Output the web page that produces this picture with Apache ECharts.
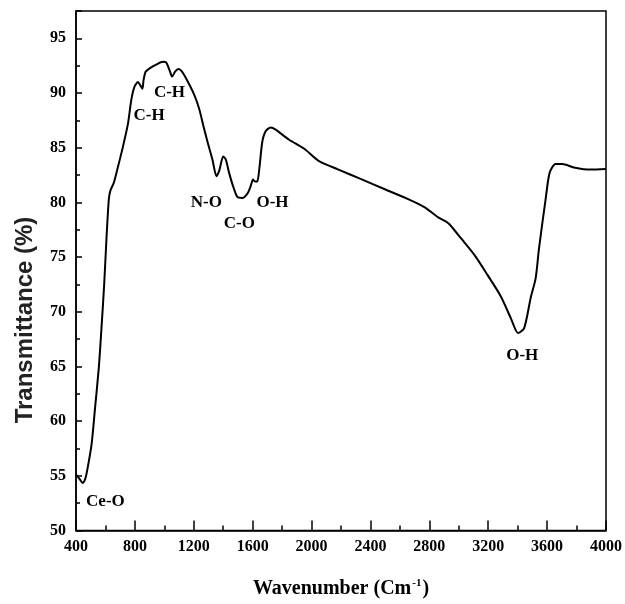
<!DOCTYPE html>
<html lang="en">

	<head>
		<meta charset="UTF-8">
		<title>FTIR spectrum</title>
		<script src="https://cdn.jsdelivr.net/npm/echarts@6/dist/echarts.min.js" type="text/javascript"></script>
		<style>
			html, body { margin: 0; padding: 0; background: #fff; }
			#main { width: 625px; height: 604px; }
		</style>
	</head>

	<body>
		<div id="main"></div>
		<script type="text/javascript">
			// wavenumber (cm-1) and transmittance (%)
			var wavenumber = [400, 425, 445, 462, 476, 506, 528, 555, 573, 591, 607, 623, 634, 657, 686, 719, 753, 776, 798, 821,
				837, 851, 859, 873, 900, 945, 990, 1012, 1035, 1053, 1073, 1096, 1120, 1159, 1204, 1238, 1265, 1294, 1327, 1354,
				1373, 1400, 1418, 1440, 1469, 1496, 1530, 1564, 1587, 1602, 1616, 1631, 1647, 1665, 1688, 1722, 1756, 1845, 1950, 2048,
				2183, 2341, 2498, 2656, 2769, 2858, 2914, 2937, 3016, 3106, 3196, 3286, 3354, 3403, 3444, 3489, 3522, 3545, 3590, 3617,
				3657, 3703, 3782, 3894, 4000];
			var transmittance = [55.1, 54.7, 54.35, 54.7, 55.5, 57.9, 61.0, 64.9, 68.5, 72.4, 76.7, 80.3, 81.1, 81.8, 83.3, 85.1, 87.2, 89.4, 90.6, 91.0,
				90.7, 90.4, 91.2, 91.95, 92.25, 92.6, 92.85, 92.8, 92.1, 91.5, 91.95, 92.2, 91.95, 91.05, 89.8, 88.5, 87.0, 85.5, 83.9, 82.4,
				82.9, 84.2, 83.9, 82.7, 81.4, 80.5, 80.4, 80.8, 81.5, 82.1, 81.9, 81.9, 83.3, 85.5, 86.5, 86.85, 86.65, 85.75, 84.9, 83.8,
				83.0, 82.1, 81.2, 80.3, 79.55, 78.65, 78.25, 78.0, 76.7, 75.2, 73.35, 71.4, 69.4, 68.05, 68.5, 71.3, 73.05, 75.8, 80.3, 82.7,
				83.5, 83.5, 83.2, 83.0, 83.05];

			// band assignments
			var bandNames = ['C-H', 'C-H', 'N-O', 'C-O', 'O-H', 'O-H', 'Ce-O'];
			var bandX = [896, 1035, 1285, 1510, 1735, 3431, 600];
			var bandY = [87.98, 90.05, 79.95, 78.1, 79.97, 65.97, 52.6];

			var serif = '"Liberation Serif", "Times New Roman", serif';

			var lineData = [];
			for (var i = 0; i < wavenumber.length; i++) {
				lineData.push([wavenumber[i], transmittance[i]]);
			}
			var bandData = [];
			for (var j = 0; j < bandNames.length; j++) {
				bandData.push({ name: bandNames[j], value: [bandX[j], bandY[j]] });
			}

			var myChart = echarts.init(document.getElementById('main'));
			var option = {
				animation: false,
				grid: {
					left: 76,
					right: 16,
					top: 11,
					bottom: 70,
					show: true,
					borderColor: '#000',
					borderWidth: 1.5
				},
				graphic: [{
					type: 'text',
					x: 25,
					y: 320,
					rotation: Math.PI / 2,
					style: {
						text: 'Transmittance (%)',
						font: 'bold 24px "Liberation Sans", Arial, sans-serif',
						fill: '#222',
						align: 'center',
						verticalAlign: 'middle'
					}
				}],
				xAxis: {
					type: 'value',
					min: 400,
					max: 4000,
					interval: 400,
					name: '{a|Wavenumber (Cm}{sup|-1}{a|)}',
					nameLocation: 'middle',
					nameGap: 47,
					nameTextStyle: {
						rich: {
							a: { fontFamily: serif, fontWeight: 'bold', fontSize: 20, color: '#000' },
							sup: { fontFamily: serif, fontWeight: 'bold', fontSize: 11, color: '#000', padding: [0, 1, 12, 1] }
						}
					},
					axisLine: { onZero: false, lineStyle: { color: '#000', width: 1.5 } },
					axisTick: { inside: true, length: 10, lineStyle: { color: '#000', width: 1.5 } },
					minorTick: { show: true, splitNumber: 2, length: 5, lineStyle: { color: '#000', width: 1.5 } },
					axisLabel: {
						margin: 8,
						fontFamily: serif,
						fontWeight: 'bold',
						fontSize: 16,
						color: '#000',
						formatter: function(v) {
							return String(v);
						}
					},
					splitLine: { show: false }
				},
				yAxis: {
					type: 'value',
					min: 50,
					max: 97.5,
					interval: 5,
					axisLine: { show: true, onZero: false, lineStyle: { color: '#000', width: 1.5 } },
					axisTick: { show: true, inside: true, length: 6, lineStyle: { color: '#000', width: 1.5 } },
					minorTick: { show: true, splitNumber: 2, length: 4, lineStyle: { color: '#000', width: 1.5 } },
					axisLabel: {
						margin: 10,
						fontFamily: serif,
						fontWeight: 'bold',
						fontSize: 16,
						color: '#000',
						showMaxLabel: false,
						formatter: function(v) {
							return v % 5 === 0 ? String(v) : '';
						}
					},
					splitLine: { show: false }
				},
				series: [{
						name: 'FTIR',
						type: 'line',
						data: lineData,
						smooth: 0.25,
						showSymbol: false,
						lineStyle: { color: '#000', width: 2 }
					},
					{
						name: 'bands',
						type: 'scatter',
						data: bandData,
						symbolSize: 0,
						itemStyle: { opacity: 1 },
						label: {
							show: true,
							position: 'inside',
							formatter: '{b}',
							fontFamily: serif,
							fontWeight: 'bold',
							fontSize: 17,
							color: '#000'
						}
					}
				]
			};
			myChart.setOption(option);
		</script>
	</body>

</html>
